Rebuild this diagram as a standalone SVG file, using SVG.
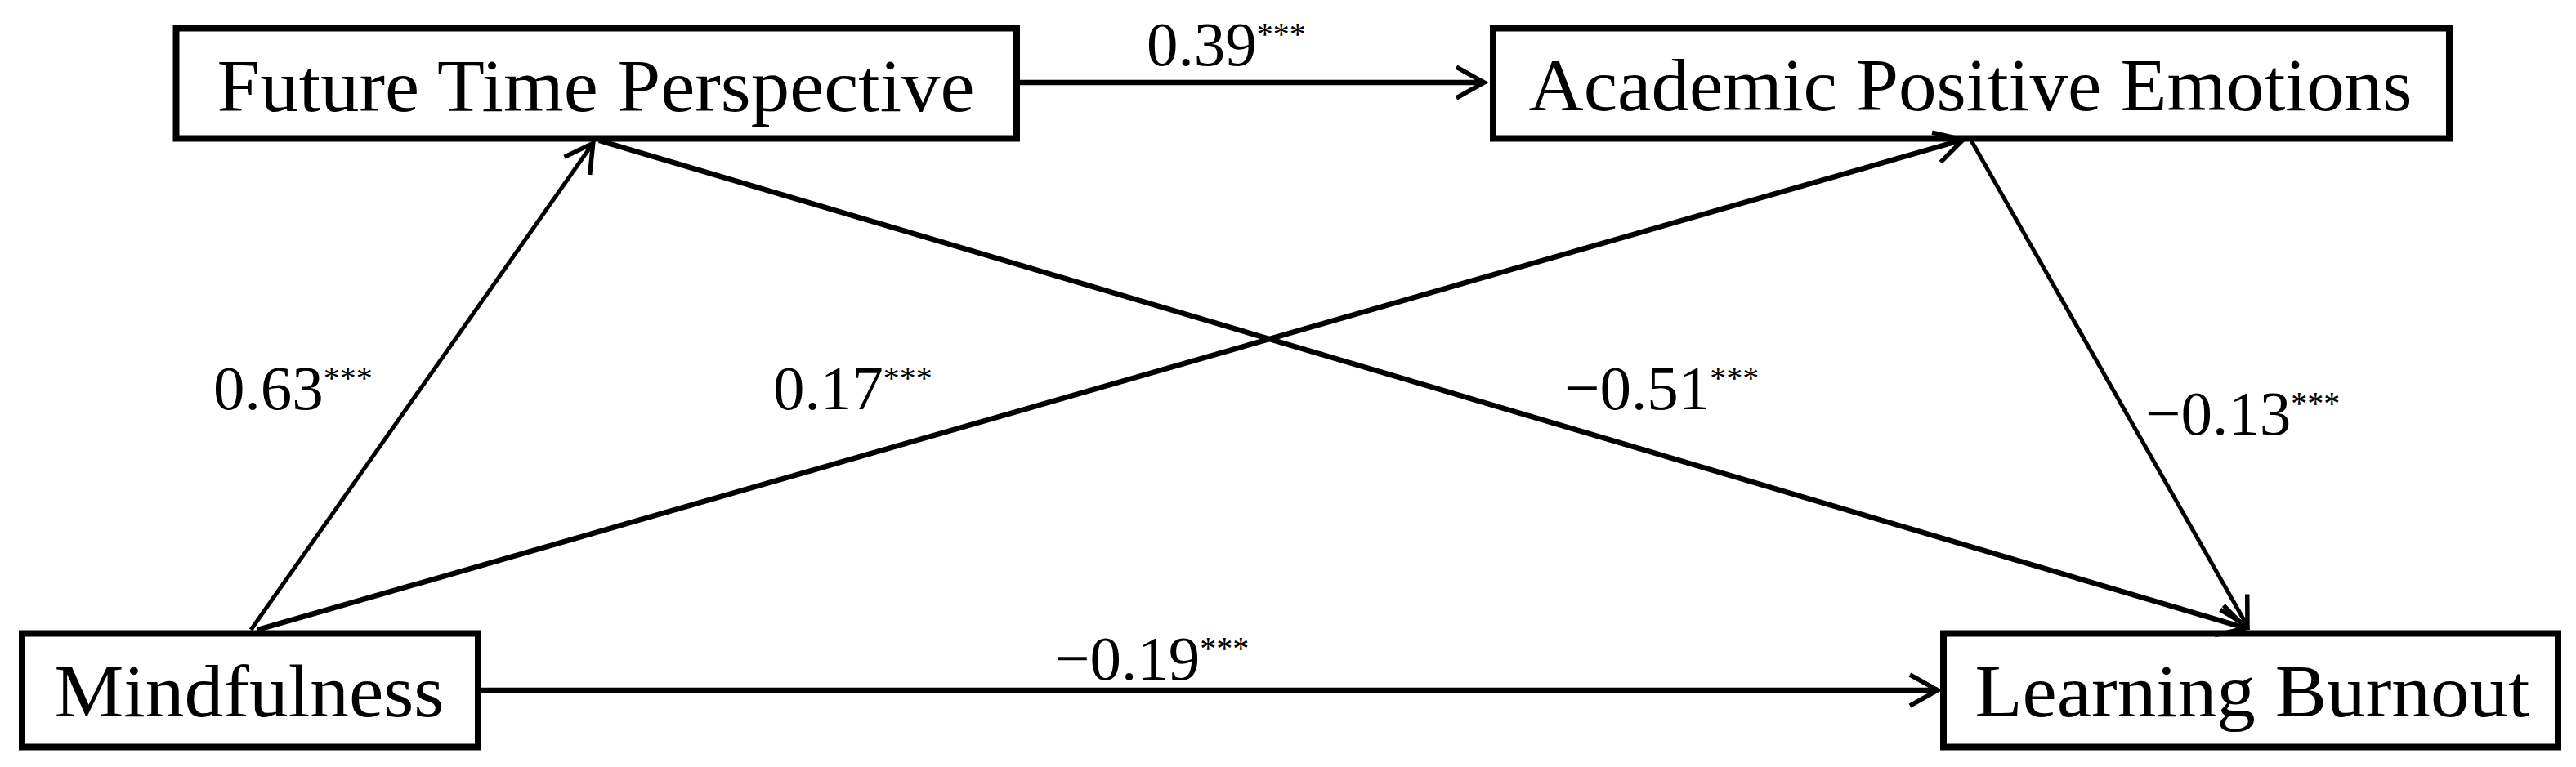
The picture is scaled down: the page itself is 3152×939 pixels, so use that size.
<svg xmlns="http://www.w3.org/2000/svg" width="3152" height="939" viewBox="0 0 3152 939">
<style>
.box{fill:#fff;stroke:#000;stroke-width:8}
.lbl{font-family:"Liberation Serif","Times New Roman",serif;font-size:92px;fill:#000;text-anchor:middle}
.coef{font-family:"Liberation Serif","Times New Roman",serif;font-size:77px;fill:#000}
.sup{font-size:40px}
.edge{stroke:#000;stroke-width:6.5;fill:none;marker-end:url(#arr)}
.thin{stroke-width:5}
</style>
<defs>
<marker id="arr" markerUnits="userSpaceOnUse" viewBox="-40 -25 50 50" refX="0" refY="0" markerWidth="50" markerHeight="50" orient="auto" overflow="visible">
<path d="M -34,-19 L 0,0 L -34,19" fill="none" stroke="#000" stroke-width="5.5" stroke-linejoin="miter"/>
</marker>
</defs>
<rect width="3152" height="939" fill="#fff"/>
<g id="node-ftp">
<rect class="box" x="215.5" y="34.5" width="1028.5" height="135"/>
<text class="lbl" x="729" y="136" textLength="927" lengthAdjust="spacingAndGlyphs">Future Time Perspective</text>
</g>
<g id="node-ape">
<rect class="box" x="1827" y="34.5" width="1170" height="135"/>
<text class="lbl" x="2411" y="135" textLength="1081" lengthAdjust="spacingAndGlyphs">Academic Positive Emotions</text>
</g>
<g id="node-mind">
<rect class="box" x="27" y="775.5" width="558" height="139"/>
<text class="lbl" x="305" y="877" textLength="477" lengthAdjust="spacingAndGlyphs">Mindfulness</text>
</g>
<g id="node-lb">
<rect class="box" x="2378" y="775.5" width="752" height="139"/>
<text class="lbl" x="2756" y="877" textLength="679" lengthAdjust="spacingAndGlyphs">Learning Burnout</text>
</g>
<g id="connectors">
<line class="edge" x1="1248" y1="101" x2="1816" y2="101"/>
<line class="edge thin" x1="307" y1="771" x2="725.7" y2="175.3"/>
<line class="edge" x1="315" y1="771" x2="2402" y2="171"/>
<line class="edge" x1="733" y1="172" x2="2748" y2="769"/>
<line class="edge thin" x1="2412" y1="172" x2="2750" y2="766.5"/>
<line class="edge" x1="589" y1="845" x2="2371" y2="845"/>
</g>
<g id="labels">
<text class="coef" x="1403" y="80">0.39<tspan class="sup" dy="-25">***</tspan></text>
<text class="coef" x="261" y="501">0.63<tspan class="sup" dy="-25">***</tspan></text>
<text class="coef" x="946" y="501">0.17<tspan class="sup" dy="-25">***</tspan></text>
<text class="coef" x="1914" y="501">−0.51<tspan class="sup" dy="-25">***</tspan></text>
<text class="coef" x="2625" y="532">−0.13<tspan class="sup" dy="-25">***</tspan></text>
<text class="coef" x="1290" y="832">−0.19<tspan class="sup" dy="-25">***</tspan></text>
</g>
</svg>
